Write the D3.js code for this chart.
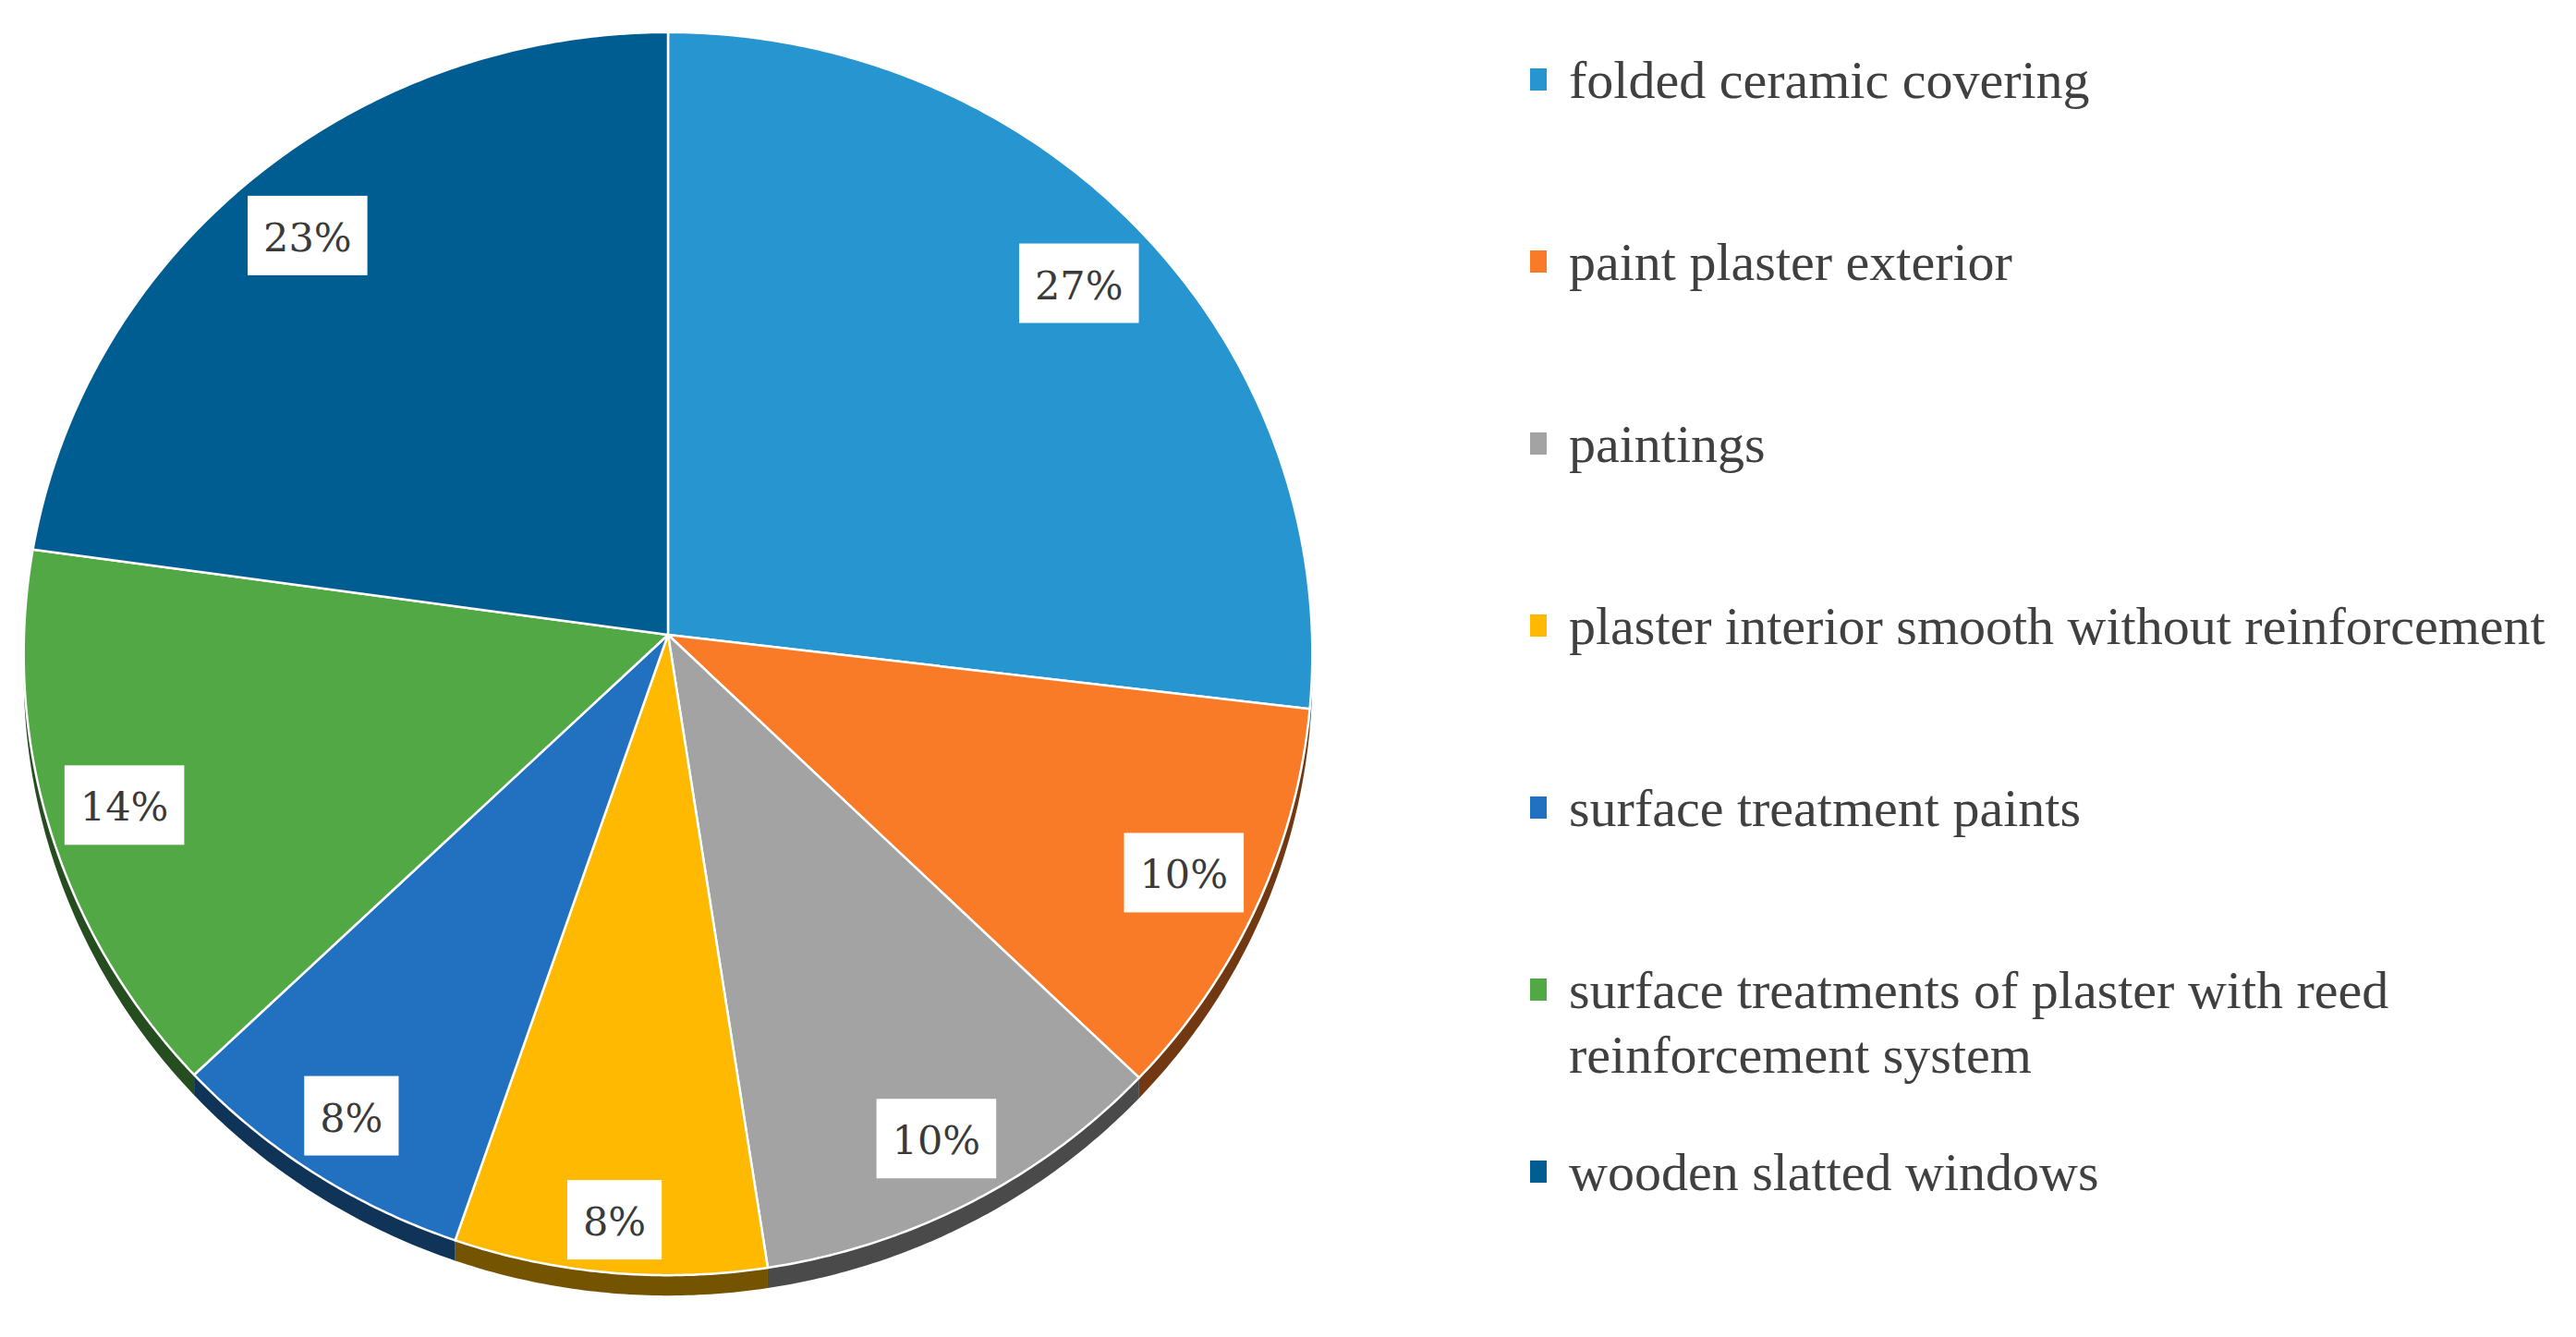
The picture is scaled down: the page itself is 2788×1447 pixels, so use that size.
<!DOCTYPE html>
<html>
<head>
<meta charset="utf-8">
<script src="https://cdn.jsdelivr.net/npm/d3@7"></script>
<style>
  body { margin: 0; background: #fff; }
</style>
</head>
<body>
<div id="chart"></div>
<script>
// Data (shares of the pie, in %)
const categories = [
  "folded ceramic covering",
  "paint plaster exterior",
  "paintings",
  "plaster interior smooth without reinforcement",
  "surface treatment paints",
  "surface treatments of plaster with reed reinforcement system",
  "wooden slatted windows"
];
const values = [26.9, 10.4, 10.3, 7.6, 7.6, 14.4, 22.8];
const colors = ["#2795cf", "#f97b27", "#a3a3a3", "#ffb900", "#2271c0", "#52a845", "#005d92"];

const width = 2788;
const height = 1447;

// pie geometry (slightly tilted 3D pie, seen in perspective)
const cx = 723, cy = 687;      // where the slices meet
const rx = 697, ry = 672;      // radii of the top face
const persp = 0.0305;          // perspective strength
const depth = 22;              // thickness of the pie

const svg = d3.select("#chart")
  .append("svg")
  .attr("width", width)
  .attr("height", height);

const pie = d3.pie().sort(null).value(d => d);
const arcs = pie(values);
const total = d3.sum(values);
const pct = d3.format(".0%");

// angle (0 = top, clockwise) and radius fraction -> screen point
function project(f, a) {
  const u = f * Math.sin(a);
  const v = f * Math.cos(a);
  const den = 1 + persp * v;
  return [cx + rx * u / den, cy - ry * v / den];
}

function rim(a0, a1) {
  const n = Math.max(2, Math.ceil((a1 - a0) / (Math.PI / 360)));
  return d3.range(n + 1).map(i => project(1, a0 + (a1 - a0) * i / n));
}

const line = d3.line();

//// side walls first
const gSide = svg.append("g");
arcs.forEach((d, i) => {
  const lo = Math.max(d.startAngle, Math.PI / 2);
  const hi = Math.min(d.endAngle, Math.PI * 3 / 2);
  if (lo >= hi) return;
  const top = rim(lo, hi);
  const bottom = top.map(p => [p[0], p[1] + depth]).reverse();
  gSide.append("path")
    .attr("d", line(top.concat(bottom)) + "Z")
    .attr("fill", d3.color(colors[i]).darker(2.2));
});

//// top faces
const gTop = svg.append("g");
gTop.selectAll("path")
  .data(arcs)
  .enter()
  .append("path")
  .attr("d", d => line([[cx, cy]].concat(rim(d.startAngle, d.endAngle))) + "Z")
  .attr("fill", (d, i) => colors[i])
  .attr("stroke", "#fff")
  .attr("stroke-width", 2.5)
  .attr("stroke-linejoin", "round");

//// data labels in white boxes, inside the outer end of each slice
const boxH = 86, padX = 17, gap = 10;
const gLab = svg.append("g");
arcs.forEach((d, i) => {
  const g = gLab.append("g");
  const rect = g.append("rect").attr("fill", "#fff");
  const t = g.append("text")
    .attr("text-anchor", "middle")
    .attr("dominant-baseline", "central")
    .attr("font-family", "DejaVu Serif")
    .attr("font-size", 43)
    .attr("fill", "#3a3a3a")
    .text(pct(d.data / total));
  const w = t.node().getComputedTextLength() + padX * 2;
  const mid = (d.startAngle + d.endAngle) / 2;
  const p = project(1, mid);
  let dx = p[0] - cx, dy = p[1] - cy;
  const len = Math.hypot(dx, dy);
  dx /= len; dy /= len;
  const off = w / 2 * Math.abs(dx) + boxH / 2 * Math.abs(dy) + gap;
  const x = p[0] - dx * off, y = p[1] - dy * off;
  rect.attr("x", x - w / 2).attr("y", y - boxH / 2).attr("width", w).attr("height", boxH);
  t.attr("x", x).attr("y", y + 2);
});

//// legend
const legX = 1698, legTop = 106, legStep = 197, legLine = 70, legMax = 1150;
const gLeg = svg.append("g")
  .attr("font-family", "Liberation Serif")
  .attr("font-size", 58)
  .attr("fill", "#404040");

categories.forEach((c, i) => {
  const y = legTop + i * legStep;
  gLeg.append("rect")
    .attr("x", legX - 42)
    .attr("y", y - 32)
    .attr("width", 18)
    .attr("height", 24)
    .attr("fill", colors[i]);
  const t = gLeg.append("text").attr("x", legX).attr("y", y);
  // simple word wrap
  const words = c.split(" ");
  let ts = t.append("tspan").attr("x", legX).attr("y", y);
  let cur = [];
  let lineNo = 0;
  words.forEach(wd => {
    cur.push(wd);
    ts.text(cur.join(" "));
    if (ts.node().getComputedTextLength() > legMax && cur.length > 1) {
      cur.pop();
      ts.text(cur.join(" "));
      cur = [wd];
      lineNo++;
      ts = t.append("tspan").attr("x", legX).attr("y", y + lineNo * legLine).text(wd);
    }
  });
});
</script>
</body>
</html>
